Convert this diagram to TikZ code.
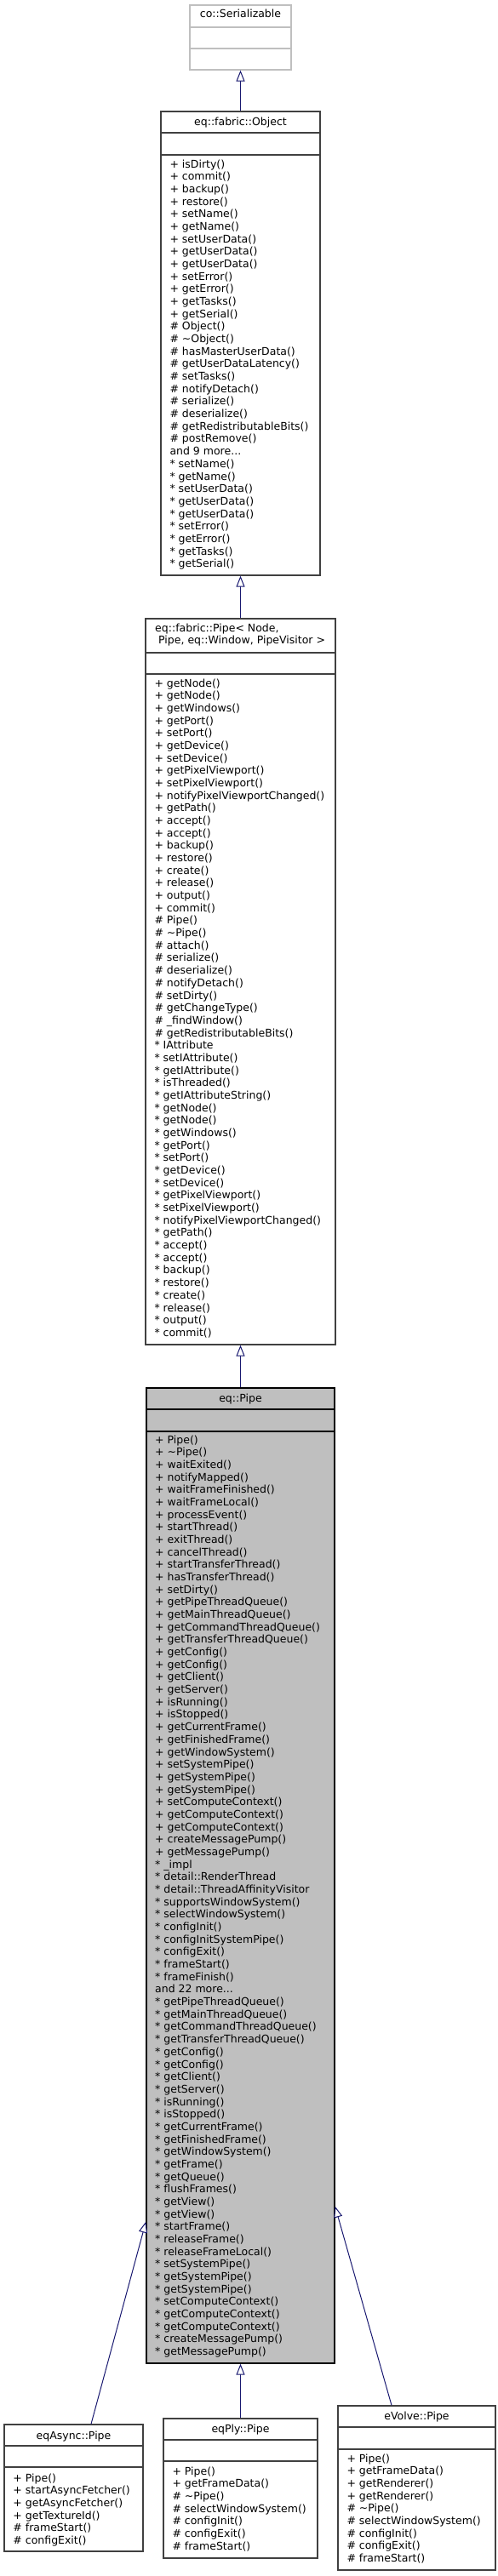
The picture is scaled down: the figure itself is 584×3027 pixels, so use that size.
\documentclass[tikz,border=0pt]{standalone}
\usepackage{fontspec}
\setmainfont{DejaVu Sans}
\usetikzlibrary{arrows.meta}
\definecolor{edgeblue}{HTML}{191970}
\definecolor{boxgray}{HTML}{404040}
\definecolor{extgray}{HTML}{BFBFBF}
\definecolor{curfill}{HTML}{BFBFBF}
\newcommand\memfont{\fontsize{12.5}{14.68}\selectfont}
\newcommand\threedots{.\kern0pt.\kern0pt.}
\tikzset{
  cls/.style={draw=boxgray, line width=1.2pt, fill=white, rectangle, inner sep=0pt},
  extcls/.style={cls, draw=extgray},
  curcls/.style={cls, draw=black, fill=curfill},
  divline/.style={draw=boxgray, line width=1.2pt},
  extdiv/.style={draw=extgray, line width=1.2pt},
  curdiv/.style={draw=black, line width=1.2pt},
  mem/.style={anchor=base west, inner sep=0pt, font=\memfont},
  ttl/.style={anchor=base, inner sep=0pt, font=\memfont},
  ttlw/.style={anchor=base west, inner sep=0pt, font=\memfont},
  inh/.style={draw=edgeblue, line width=1pt, -{Triangle[fill=white, length=13pt, width=10pt]}}
}
\newcommand\memlist[3]{%
  \foreach \m [count=\k from 0] in {#3}{\node[mem] at (#1,#2+14.68*\k) {\m};}}
\begin{document}
\begin{tikzpicture}[x=1pt,y=-1pt]
\useasboundingbox (0,0) rectangle (584,3027);

% co::Serializable
\node[extcls, minimum width=119pt, minimum height=76pt] (serial) at (282.5,44) {};
\draw[extdiv] (serial.west |- 0,32) -- (serial.east |- 0,32);
\draw[extdiv] (serial.west |- 0,57) -- (serial.east |- 0,57);
\node[ttl] (serialt) at (282.5,21) {co::Serializable};

% eq::fabric::Object
\node[cls, minimum width=187pt, minimum height=545pt] (obj) at (282.5,403.5) {};
\draw[divline] (obj.west |- 0,156) -- (obj.east |- 0,156);
\draw[divline] (obj.west |- 0,182) -- (obj.east |- 0,182);
\node[ttl] (objt) at (282.5,147) {eq::fabric::Object};
\memlist{199.3}{197}{+ isDirty(), + commit(), + backup(), + restore(), + setName(), + getName(), + setUserData(), + getUserData(), + getUserData(), + setError(), + getError(), + getTasks(), + getSerial(), \# Object(), \# \textasciitilde Object(), \# hasMasterUserData(), \# getUserDataLatency(), \# setTasks(), \# notifyDetach(), \# serialize(), \# deserialize(), \# getRedistributableBits(), \# postRemove(), and 9 more\threedots, * setName(), * getName(), * setUserData(), * getUserData(), * getUserData(), * setError(), * getError(), * getTasks(), * getSerial()}

% eq::fabric::Pipe
\node[cls, minimum width=223pt, minimum height=853pt] (fab) at (282.5,1153.5) {};
\draw[divline] (fab.west |- 0,767) -- (fab.east |- 0,767);
\draw[divline] (fab.west |- 0,792) -- (fab.east |- 0,792);
\node[ttlw] (fabt1) at (182,742) {eq::fabric::Pipe< Node,};
\node[ttlw] (fabt2) at (186,756) {Pipe, eq::Window, PipeVisitor >};
\memlist{181.3}{807}{+ getNode(), + getNode(), + getWindows(), + getPort(), + setPort(), + getDevice(), + setDevice(), + getPixelViewport(), + setPixelViewport(), + notifyPixelViewportChanged(), + getPath(), + accept(), + accept(), + backup(), + restore(), + create(), + release(), + output(), + commit(), \# Pipe(), \# \textasciitilde Pipe(), \# attach(), \# serialize(), \# deserialize(), \# notifyDetach(), \# setDirty(), \# getChangeType(), \# \_findWindow(), \# getRedistributableBits(), * IAttribute, * setIAttribute(), * getIAttribute(), * isThreaded(), * getIAttributeString(), * getNode(), * getNode(), * getWindows(), * getPort(), * setPort(), * getDevice(), * setDevice(), * getPixelViewport(), * setPixelViewport(), * notifyPixelViewportChanged(), * getPath(), * accept(), * accept(), * backup(), * restore(), * create(), * release(), * output(), * commit()}

% eq::Pipe
\node[curcls, minimum width=221pt, minimum height=1146pt] (eqp) at (282.5,2204) {};
\draw[curdiv] (eqp.west |- 0,1656) -- (eqp.east |- 0,1656);
\draw[curdiv] (eqp.west |- 0,1682) -- (eqp.east |- 0,1682);
\node[ttl] (eqpt) at (282.5,1647) {eq::Pipe};
\memlist{182}{1696}{+ Pipe(), + \textasciitilde Pipe(), + waitExited(), + notifyMapped(), + waitFrameFinished(), + waitFrameLocal(), + processEvent(), + startThread(), + exitThread(), + cancelThread(), + startTransferThread(), + hasTransferThread(), + setDirty(), + getPipeThreadQueue(), + getMainThreadQueue(), + getCommandThreadQueue(), + getTransferThreadQueue(), + getConfig(), + getConfig(), + getClient(), + getServer(), + isRunning(), + isStopped(), + getCurrentFrame(), + getFinishedFrame(), + getWindowSystem(), + setSystemPipe(), + getSystemPipe(), + getSystemPipe(), + setComputeContext(), + getComputeContext(), + getComputeContext(), + createMessagePump(), + getMessagePump(), * \_impl, * detail::RenderThread, * detail::ThreadAffinityVisitor, * supportsWindowSystem(), * selectWindowSystem(), * configInit(), * configInitSystemPipe(), * configExit(), * frameStart(), * frameFinish(), and 22 more\threedots, * getPipeThreadQueue(), * getMainThreadQueue(), * getCommandThreadQueue(), * getTransferThreadQueue(), * getConfig(), * getConfig(), * getClient(), * getServer(), * isRunning(), * isStopped(), * getCurrentFrame(), * getFinishedFrame(), * getWindowSystem(), * getFrame(), * getQueue(), * flushFrames(), * getView(), * getView(), * startFrame(), * releaseFrame(), * releaseFrameLocal(), * setSystemPipe(), * getSystemPipe(), * getSystemPipe(), * setComputeContext(), * getComputeContext(), * getComputeContext(), * createMessagePump(), * getMessagePump()}

% eqAsync::Pipe
\node[cls, minimum width=163pt, minimum height=149pt] (async) at (86.5,2923.5) {};
\draw[divline] (async.west |- 0,2874) -- (async.east |- 0,2874);
\draw[divline] (async.west |- 0,2899) -- (async.east |- 0,2899);
\node[ttl] (asynct) at (86.5,2866) {eqAsync::Pipe};
\memlist{15.3}{2916}{+ Pipe(), + startAsyncFetcher(), + getAsyncFetcher(), + getTextureId(), \# frameStart(), \# configExit()}

% eqPly::Pipe
\node[cls, minimum width=181pt, minimum height=164pt] (ply) at (282.5,2924) {};
\draw[divline] (ply.west |- 0,2867) -- (ply.east |- 0,2867);
\draw[divline] (ply.west |- 0,2892) -- (ply.east |- 0,2892);
\node[ttl] (plyt) at (282.5,2858) {eqPly::Pipe};
\memlist{202.3}{2908}{+ Pipe(), + getFrameData(), \# \textasciitilde Pipe(), \# selectWindowSystem(), \# configInit(), \# configExit(), \# frameStart()}

% eVolve::Pipe
\node[cls, minimum width=185pt, minimum height=193pt] (evolve) at (489.5,2923.5) {};
\draw[divline] (evolve.west |- 0,2852) -- (evolve.east |- 0,2852);
\draw[divline] (evolve.west |- 0,2878) -- (evolve.east |- 0,2878);
\node[ttl] (evolvet) at (489.5,2843) {eVolve::Pipe};
\memlist{407.3}{2893}{+ Pipe(), + getFrameData(), + getRenderer(), + getRenderer(), \# \textasciitilde Pipe(), \# selectWindowSystem(), \# configInit(), \# configExit(), \# frameStart()}

% inheritance connectors
\draw[inh] (obj.north) -- (serial.south);
\draw[inh] (fab.north) -- (obj.south);
\draw[inh] (eqp.north) -- (fab.south);
\draw[inh] (ply.north) -- (eqp.south);
\draw[inh] ([xshift=20.5pt]async.north) -- ([yshift=167pt]eqp.south west);
\draw[inh] ([xshift=-29.5pt]evolve.north) -- ([yshift=185pt]eqp.south east);
\end{tikzpicture}
\end{document}
